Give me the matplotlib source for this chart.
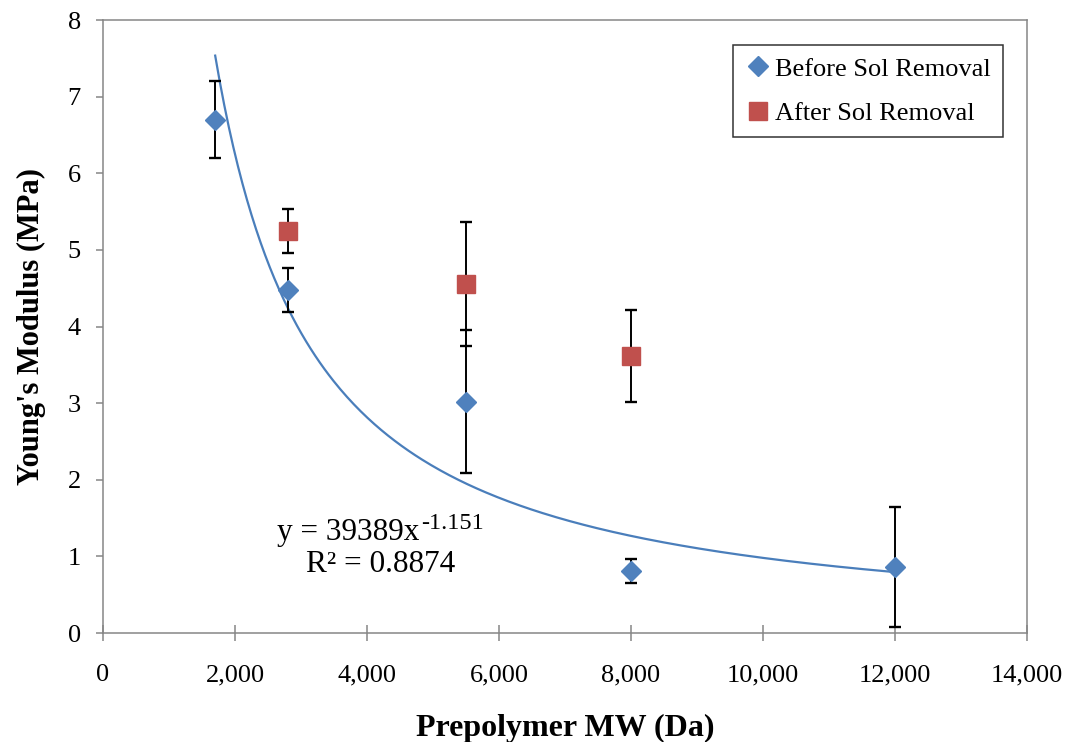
import numpy as np
import matplotlib.pyplot as plt
from matplotlib.ticker import FuncFormatter

plt.rcParams['font.family'] = ['Liberation Serif', 'DejaVu Serif']

# Data
mw_before = [1700, 2800, 5500, 8000, 12000]
mod_before = [6.70, 4.48, 3.02, 0.81, 0.86]
err_before = [0.50, 0.29, 0.93, 0.16, 0.78]

mw_after = [2800, 5500, 8000]
mod_after = [5.25, 4.56, 3.61]
err_after = [0.29, 0.81, 0.60]

# Power trendline y = a * x^b (Excel fit on "before" data)
fit_a = 39389
fit_b = -1.151

fig = plt.figure(figsize=(10.66, 7.42), dpi=100)
ax = fig.add_axes([0.0966, 0.1469, 0.8668, 0.8261])

xs = np.linspace(min(mw_before), max(mw_before), 300)
ax.plot(xs, fit_a * xs ** fit_b, color='#4A7EBB', lw=1.6, zorder=2)

ax.errorbar(mw_before, mod_before, yerr=err_before, fmt='D', color='#4F81BD',
            ms=10.5, ecolor='black', elinewidth=1.4, capsize=4.5, capthick=1.7,
            label='Before Sol Removal', zorder=3)
ax.errorbar(mw_after, mod_after, yerr=err_after, fmt='s', color='#C0504D',
            ms=13.5, ecolor='black', elinewidth=1.4, capsize=4.5, capthick=1.7,
            label='After Sol Removal', zorder=3)

ax.set_xlim(0, 14000)
ax.set_ylim(0, 8)
ax.set_xticks(range(0, 14001, 2000))
ax.set_yticks(range(0, 9))
ax.xaxis.set_major_formatter(FuncFormatter(lambda v, p: f'{int(v):,}'))

for side in ax.spines:
    ax.spines[side].set_color('#868686')
    ax.spines[side].set_linewidth(1.1)
ax.tick_params(colors='#868686', labelcolor='black', labelsize=19, width=1.1)
ax.tick_params(axis='x', direction='inout', length=11, pad=17)
ax.tick_params(axis='y', direction='out', length=5, pad=11)

ax.set_xlabel('Prepolymer MW (Da)', fontsize=23, fontweight='bold', va='center')
ax.set_ylabel("Young's Modulus (MPa)", fontsize=22, fontweight='bold', va='center')
ax.xaxis.set_label_coords(0.5, -0.155)
ax.yaxis.set_label_coords(-0.077, 0.5)

# trendline equation, superscript drawn as its own text so the sign is a hyphen
eq = ax.text(2640, 1.31, 'y = 39389x', fontsize=22.5, ha='left', va='center')
ax.annotate('-1.151', xy=(1.0, 1.0), xycoords=eq, xytext=(1, 4),
            textcoords='offset points', fontsize=17.5, ha='left', va='top')
ax.text(4212, 0.90, 'R² = 0.8874', fontsize=22.5, ha='center', va='center')

handles, labels = ax.get_legend_handles_labels()
handles = [h[0] for h in handles]
leg = ax.legend(handles, labels, loc='upper right', bbox_to_anchor=(0.974, 0.959),
                fontsize=19, frameon=True, fancybox=False, handlelength=1.0,
                handletextpad=0.15, borderpad=0.45, labelspacing=0.8, borderaxespad=0,
                markerscale=1.0)
leg.get_frame().set_edgecolor('black')
leg.get_frame().set_linewidth(1.1)

fig.savefig('out.png', dpi=100)
